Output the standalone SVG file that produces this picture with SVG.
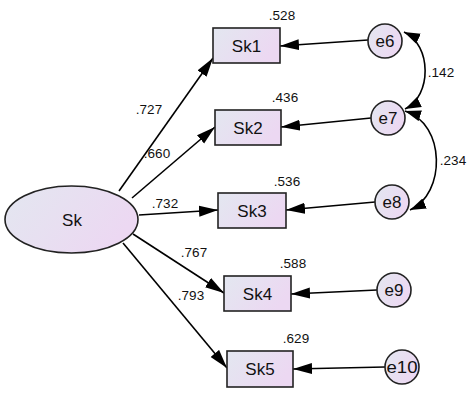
<svg xmlns="http://www.w3.org/2000/svg" width="474" height="413" viewBox="0 0 474 413">
<style>
.node{stroke:#222;stroke-width:1.6}
.lbl{font-family:"Liberation Sans",Arial,sans-serif;font-size:17px;fill:#111;text-anchor:middle}
.num{font-family:"Liberation Sans",Arial,sans-serif;font-size:13.5px;fill:#111;text-anchor:middle}
.conn{stroke:#000;stroke-width:1.6;fill:none}
</style>
<defs>
<linearGradient id="g" x1="0" y1="0" x2="1" y2="0.4">
<stop offset="0" stop-color="#e3e7f0"/>
<stop offset="1" stop-color="#ecd8f2"/>
</linearGradient>
<marker id="ah" markerUnits="userSpaceOnUse" markerWidth="19" markerHeight="12" refX="19" refY="6" orient="auto">
<path d="M0,0.5 L19,6 L0,11.5 z" fill="#000"/>
</marker>
<marker id="ahc" markerUnits="userSpaceOnUse" markerWidth="16" markerHeight="12" refX="16" refY="6" orient="auto-start-reverse">
<path d="M0,0.5 L16,6 L0,11.5 z" fill="#000"/>
</marker>
</defs>
<g id="connectors">
<line class="conn" x1="119" y1="191" x2="213" y2="58" marker-end="url(#ah)"/>
<line class="conn" x1="132" y1="198" x2="215" y2="127" marker-end="url(#ah)"/>
<line class="conn" x1="139" y1="215" x2="218" y2="210" marker-end="url(#ah)"/>
<line class="conn" x1="133" y1="234" x2="224" y2="293" marker-end="url(#ah)"/>
<line class="conn" x1="123" y1="243" x2="227" y2="368" marker-end="url(#ah)"/>
<line class="conn" x1="368" y1="40" x2="280" y2="46" marker-end="url(#ah)"/>
<line class="conn" x1="371" y1="118" x2="281" y2="127" marker-end="url(#ah)"/>
<line class="conn" x1="375" y1="202" x2="286" y2="210" marker-end="url(#ah)"/>
<line class="conn" x1="377" y1="290" x2="291" y2="294" marker-end="url(#ah)"/>
<line class="conn" x1="385" y1="367" x2="293" y2="369" marker-end="url(#ah)"/>
<path class="conn" d="M404,32 C432,45 432,96 405,109" marker-start="url(#ahc)" marker-end="url(#ahc)"/>
<path class="conn" d="M405,111 C446,124 446,194 410,210" marker-start="url(#ahc)" marker-end="url(#ahc)"/>
<text class="num" x="149" y="114">.727</text>
<text class="num" x="157" y="158">.660</text>
<text class="num" x="165" y="208">.732</text>
<text class="num" x="194" y="257">.767</text>
<text class="num" x="191" y="300">.793</text>
<text class="num" x="441" y="77">.142</text>
<text class="num" x="453" y="165">.234</text>
</g>
<g id="Sk">
<ellipse class="node" cx="71.5" cy="219.5" rx="66.5" ry="33.5" fill="url(#g)"/>
<text class="lbl" x="72" y="226" font-size="18">Sk</text>
</g>
<g id="Sk1">
<rect class="node" x="213" y="28" width="67" height="35" fill="url(#g)"/>
<text class="lbl" x="246.5" y="51.5">Sk1</text>
<text class="num" x="282" y="20">.528</text>
</g>
<g id="Sk2">
<rect class="node" x="215" y="110" width="66" height="35" fill="url(#g)"/>
<text class="lbl" x="248" y="133.5">Sk2</text>
<text class="num" x="285" y="102">.436</text>
</g>
<g id="Sk3">
<rect class="node" x="218" y="193" width="68" height="35" fill="url(#g)"/>
<text class="lbl" x="252" y="216.5">Sk3</text>
<text class="num" x="287" y="186">.536</text>
</g>
<g id="Sk4">
<rect class="node" x="224" y="276" width="67" height="35" fill="url(#g)"/>
<text class="lbl" x="257.5" y="299.5">Sk4</text>
<text class="num" x="293" y="268">.588</text>
</g>
<g id="Sk5">
<rect class="node" x="227" y="351" width="66" height="36" fill="url(#g)"/>
<text class="lbl" x="260" y="375">Sk5</text>
<text class="num" x="296" y="343">.629</text>
</g>
<g id="e6">
<circle class="node" cx="385" cy="41" r="17" fill="url(#g)"/>
<text class="lbl" x="385" y="47">e6</text>
</g>
<g id="e7">
<circle class="node" cx="388" cy="118" r="17" fill="url(#g)"/>
<text class="lbl" x="388" y="124">e7</text>
</g>
<g id="e8">
<circle class="node" cx="392" cy="202" r="17" fill="url(#g)"/>
<text class="lbl" x="392" y="208">e8</text>
</g>
<g id="e9">
<circle class="node" cx="394" cy="290" r="17" fill="url(#g)"/>
<text class="lbl" x="394" y="296">e9</text>
</g>
<g id="e10">
<circle class="node" cx="402" cy="367" r="17" fill="url(#g)"/>
<text class="lbl" x="402" y="373" textLength="31" lengthAdjust="spacingAndGlyphs">e10</text>
</g>
</svg>
